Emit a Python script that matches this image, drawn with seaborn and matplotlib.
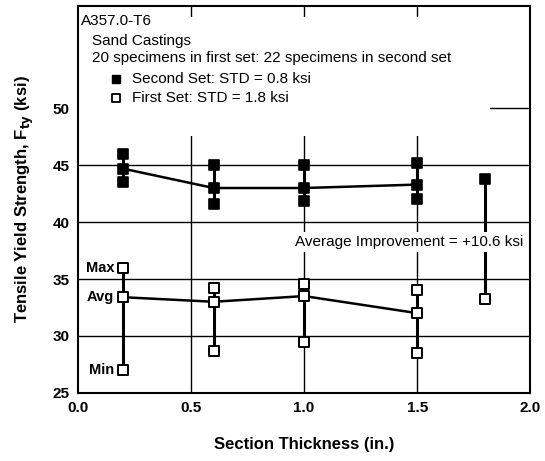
import matplotlib
matplotlib.use("Agg")
import matplotlib.pyplot as plt
from matplotlib.patches import Rectangle
import seaborn as sns
import pandas as pd

# ---- data ----
thickness = [0.2, 0.6, 1.0, 1.5]
second_max = [46.0, 45.0, 45.0, 45.2]
second_avg = [44.7, 43.0, 43.0, 43.3]
second_min = [43.5, 41.6, 41.9, 42.0]
first_max = [36.0, 34.2, 34.6, 34.0]
first_avg = [33.4, 33.0, 33.5, 32.0]
first_min = [27.0, 28.7, 29.5, 28.5]
extra_x = [1.8]
extra_second = [43.8]
extra_first = [33.2]
x_ticks = [0.0, 0.5, 1.0, 1.5, 2.0]
y_ticks = [25, 30, 35, 40, 45, 50]

sns.set_theme(style="white")
plt.rcParams['font.family'] = ['Liberation Sans', 'DejaVu Sans']
plt.rcParams['text.color'] = 'black'
plt.rcParams['axes.labelcolor'] = 'black'
plt.rcParams['xtick.color'] = 'black'
plt.rcParams['ytick.color'] = 'black'

fig = plt.figure(figsize=(5.45, 4.61), dpi=100)
ax = fig.add_axes([0.143, 0.148, 0.83, 0.839])

# grid
for yv in y_ticks[1:]:
    ax.axhline(yv, color='black', lw=1.0, zorder=1)
for xv in x_ticks[1:-1]:
    ax.axvline(xv, color='black', lw=1.0, zorder=1)

# white area behind header text (hides grid there)
ax.add_patch(Rectangle((0.0, 47.6), 1.82, 10.4, facecolor='white', edgecolor='none', zorder=1.5))

# vertical ranges
ax.vlines(thickness, second_min, second_max, color='black', lw=2.2, zorder=2)
ax.vlines(thickness, first_min, first_max, color='black', lw=2.2, zorder=2)
ax.vlines(extra_x, extra_first, extra_second, color='black', lw=2.2, zorder=2)

df2 = pd.DataFrame({'x': thickness, 'y': second_avg})
df1 = pd.DataFrame({'x': thickness, 'y': first_avg})
sns.lineplot(data=df2, x='x', y='y', color='black', lw=1.8, ax=ax, zorder=3)
sns.lineplot(data=df1, x='x', y='y', color='black', lw=1.8, ax=ax, zorder=3)

sec_pts = pd.DataFrame({'x': thickness * 3 + extra_x,
                        'y': second_max + second_avg + second_min + extra_second})
fir_pts = pd.DataFrame({'x': thickness * 3 + extra_x,
                        'y': first_max + first_avg + first_min + extra_first})
sns.scatterplot(data=sec_pts, x='x', y='y', marker='s', s=60, color='black',
                edgecolor='black', linewidth=1.2, ax=ax, zorder=4)
sns.scatterplot(data=fir_pts, x='x', y='y', marker='s', s=60, color='white',
                edgecolor='black', linewidth=1.4, ax=ax, zorder=4)

ax.set_xlim(0, 2.0)
ax.set_ylim(25, 59)
ax.set_xticks(x_ticks)
ax.set_xticklabels([f"{v:.1f}" for v in x_ticks], fontsize=11, fontweight='bold')
ax.set_yticks(y_ticks)
ax.set_yticklabels([str(v) for v in y_ticks], fontsize=11, fontweight='bold')
ax.tick_params(axis='both', length=0, pad=6)
for s in ax.spines.values():
    s.set_color('black')
    s.set_linewidth(1.5)

ax.set_xlabel("Section Thickness (in.)", fontsize=12, fontweight='bold', labelpad=16)
ax.set_ylabel("Tensile Yield Strength, F$_{\\mathbf{ty}}$ (ksi)", fontsize=12,
              fontweight='bold', labelpad=12)

# header text
ax.text(0.015, 57.65, "A357.0-T6", va='center', ha='left', fontsize=11, zorder=6)
ax.text(0.06, 55.9, "Sand Castings", va='center', ha='left', fontsize=11, zorder=6)
ax.text(0.06, 54.4, "20 specimens in first set: 22 specimens in second set",
        va='center', ha='left', fontsize=11, zorder=6)
ax.scatter([0.17], [52.62], marker='s', s=40, color='black', zorder=6)
ax.text(0.24, 52.62, "Second Set: STD = 0.8 ksi", va='center', ha='left', fontsize=11, zorder=6)
ax.scatter([0.17], [50.87], marker='s', s=40, facecolor='white', edgecolor='black', lw=1.3, zorder=6)
ax.text(0.24, 50.87, "First Set: STD = 1.8 ksi", va='center', ha='left', fontsize=11, zorder=6)

ax.text(1.97, 38.25, "Average Improvement = +10.6 ksi", va='center', ha='right', fontsize=11,
        zorder=5, bbox=dict(facecolor='white', edgecolor='none', pad=2))

# Max / Avg / Min labels
ax.text(0.16, first_max[0], "Max", va='center', ha='right', fontsize=10.5, fontweight='bold', zorder=6)
ax.text(0.16, first_avg[0], "Avg", va='center', ha='right', fontsize=10.5, fontweight='bold', zorder=6)
ax.text(0.16, first_min[0], "Min", va='center', ha='right', fontsize=10.5, fontweight='bold', zorder=6)

fig.savefig("out.png", dpi=100, facecolor='white')
